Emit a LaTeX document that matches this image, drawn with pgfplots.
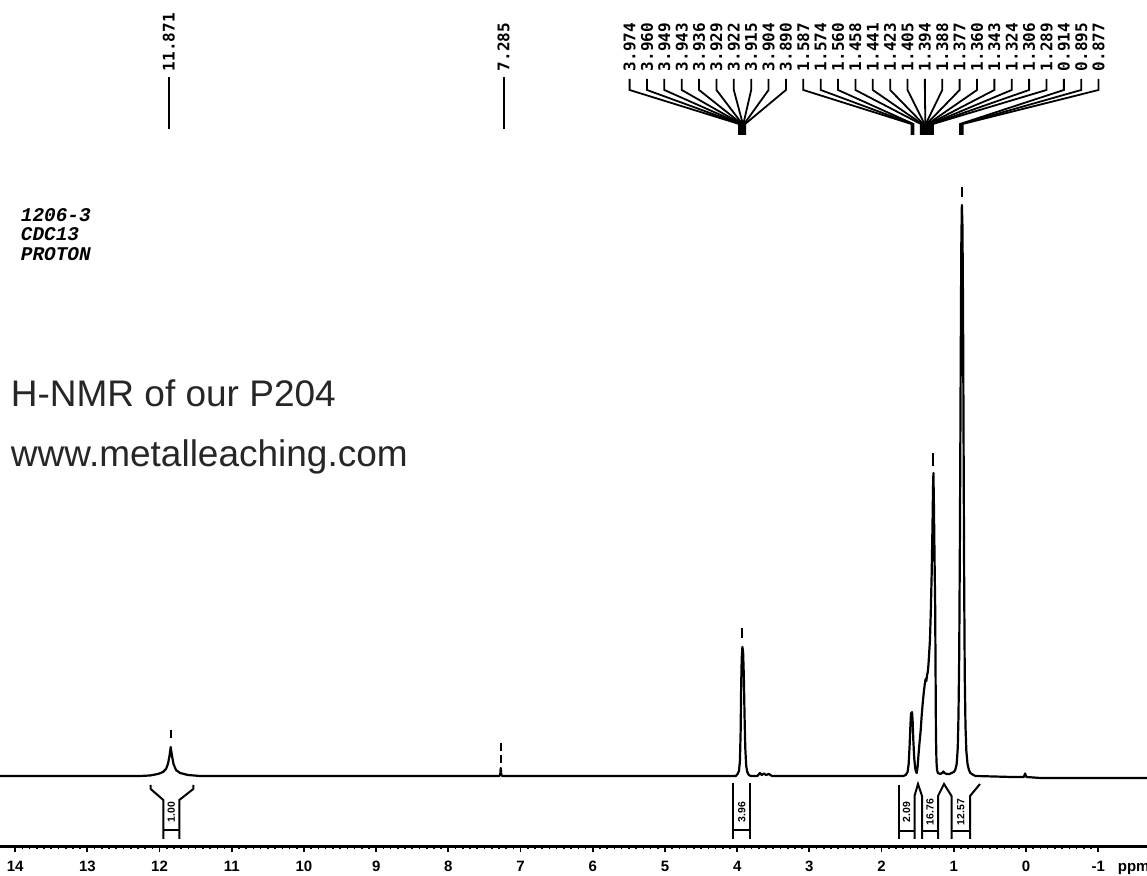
\documentclass[border=0pt]{standalone}
\usepackage{fontspec}
\setmainfont{Liberation Sans}
\newfontfamily\peakfont{DejaVu Sans Mono}
\newfontfamily\infofont{Liberation Mono}
\usepackage{pgfplots}
\pgfplotsset{compat=1.18}

\begin{document}
\begin{tikzpicture}
\begin{axis}[
  scale only axis,
  width=573.5pt, height=423.25pt,
  xmin=-1.6759, xmax=14.2105,
  ymin=-70.5, ymax=776,
  x dir=reverse,
  axis x line*=bottom, axis y line=none,
  x axis line style={line width=1.2pt,-},
  xtick={-1,0,...,14},
  xticklabels={-1,0,1,2,3,4,5,6,7,8,9,10,11,12,13,14},
  minor x tick num=9,
  tick align=outside,
  major tick length=3pt, minor tick length=1.5pt,
  every major tick/.style={line width=0.9pt,black},
  every minor tick/.style={line width=0.8pt,black},
  xticklabel style={font=\fontsize{7.5}{8}\selectfont\bfseries,inner sep=0pt,yshift=-4pt},
]
% baseline noise on the far left
\addplot[black,line width=1.35pt] coordinates {(14.21,0) (12.3,0)};
% spectrum
\addplot[black,line width=1.1pt,line join=round] coordinates {
(14.21,0) (12.27,0) (12.133,0.5) (12.022,2) (11.953,4) (11.911,7) (11.884,12)
(11.863,20) (11.846,29) (11.828,20) (11.807,12) (11.773,6) (11.717,3) (11.607,1) (11.44,0)
(7.30,0) (7.282,1) (7.275,8) (7.267,1) (7.25,0)
(4.02,0) (3.995,2) (3.975,5) (3.962,15) (3.952,45) (3.945,90) (3.937,118) (3.928,129)
(3.918,124) (3.908,100) (3.898,60) (3.888,28) (3.875,10) (3.86,4) (3.84,1) (3.81,0)
(3.72,0) (3.685,3) (3.66,1) (3.63,2.5) (3.60,1) (3.56,2) (3.52,0)
(1.70,0) (1.665,1) (1.64,4) (1.625,12) (1.612,30) (1.60,52) (1.592,63) (1.585,58)
(1.578,64) (1.57,55) (1.56,35) (1.548,18) (1.535,8) (1.522,4) (1.512,3)
(1.50,10) (1.49,20) (1.475,33) (1.458,46) (1.445,60) (1.43,73) (1.415,84) (1.40,93)
(1.39,97) (1.38,95) (1.37,101) (1.36,104) (1.35,112) (1.34,124) (1.33,136) (1.318,165)
(1.306,203) (1.295,250) (1.287,290) (1.282,303) (1.275,270) (1.266,215) (1.258,170)
(1.252,100) (1.247,40) (1.24,15) (1.232,6) (1.22,3) (1.19,2) (1.16,3) (1.145,4.5)
(1.13,3) (1.10,2) (1.06,2) (1.03,3)
(1.00,4) (0.98,6) (0.96,12) (0.945,28) (0.935,60) (0.925,120) (0.915,240) (0.905,400)
(0.896,530) (0.888,571) (0.880,550) (0.872,470) (0.864,330) (0.856,190) (0.848,100)
(0.838,50) (0.826,25) (0.81,12) (0.79,6) (0.77,3) (0.74,1.5) (0.70,0)
(0.2,-1) (0.03,-1) (0.012,2.5) (-0.005,-1) (-0.2,-2) (-1.68,-2)
};
% clipped-peak marks above the tops
\addplot[black,line width=1pt,unbounded coords=jump] coordinates {
(11.846,38) (11.846,46) (11.846,nan)
(7.271,13) (7.271,21) (7.271,nan) (7.271,25) (7.271,33) (7.271,nan)
(3.928,138) (3.928,148) (3.928,nan)
(1.282,310) (1.282,323) (1.282,nan)
(0.888,579) (0.888,589)
};
\end{axis}

% annotations in picture pixels (1147 x 876)
\begin{scope}[x=0.5pt,y=-0.5pt,yshift=423.25pt,line width=0.9pt]
  % sample info
  \node[anchor=base west,inner sep=0pt,font={\fontsize{9.7}{11}\selectfont\infofont\bfseries\itshape}] at (20,222) {1206-3};
  \node[anchor=base west,inner sep=0pt,font={\fontsize{9.7}{11}\selectfont\infofont\bfseries\itshape}] at (20,241) {CDC13};
  \node[anchor=base west,inner sep=0pt,font={\fontsize{9.7}{11}\selectfont\infofont\bfseries\itshape}] at (20,261) {PROTON};
  \node[anchor=base west,inner sep=0pt,text=black!85,font=\fontsize{18.5}{20}\selectfont] at (10,407) {H-NMR of our P204};
  \node[anchor=base west,inner sep=0pt,text=black!85,font=\fontsize{18.5}{20}\selectfont] at (10,467) {www.metalleaching.com};

  % peak labels
  \node[rotate=90,anchor=west,inner sep=0pt,font={\fontsize{8}{9}\selectfont\peakfont\bfseries}] at (168.7,72) {11.871};
  \draw (168.7,77) -- (168.7,129);
  \node[rotate=90,anchor=west,inner sep=0pt,font={\fontsize{8}{9}\selectfont\peakfont\bfseries}] at (503.6,72) {7.285};
  \draw (503.6,77) -- (503.6,129);
  \foreach \v [count=\i from 0] in {3.974,3.960,3.949,3.943,3.936,3.929,3.922,3.915,3.904,3.890,
      1.587,1.574,1.560,1.458,1.441,1.423,1.405,1.394,1.388,1.377,1.360,1.343,1.324,1.306,1.289,
      0.914,0.895,0.877} {
    \pgfmathsetmacro\lx{629.6+17.37*\i}
    \pgfmathsetmacro\pk{1026-72.2*\v}
    \node[rotate=90,anchor=west,inner sep=0pt,font={\fontsize{8}{9}\selectfont\peakfont\bfseries}] at (\lx,72) {\v};
    \draw (\lx,79) -- (\lx,90) -- (\pk,124) -- (\pk,135);
  }

  % integrals
  \begin{scope}[line width=1pt]
    \draw (150.7,785) -- (150.7,789) -- (163.3,800) -- (163.3,839);
    \draw (193.3,785) -- (193.3,789) -- (179.3,800) -- (179.3,839);
    \draw (163.3,830) -- (179.3,830);
    \draw (733.3,783) -- (733.3,839);
    \draw (750,783) -- (750,839);
    \draw (733.3,830) -- (750,830);
    \draw (898.5,785) -- (898.5,839);
    \draw (914.5,839) -- (914.5,796) -- (918,784) -- (922,796) -- (922,839);
    \draw (938,839) -- (938,796) -- (944,784) -- (951.5,796) -- (951.5,839);
    \draw (970,839) -- (970,796) -- (980,784);
    \draw (898.5,831) -- (914.5,831);
    \draw (922,831) -- (938,831);
    \draw (951.5,831) -- (970,831);
  \end{scope}
  \foreach \xx/\t in {171.3/1.00,741.7/3.96,906.5/2.09,930/16.76,960.7/12.57}
    \node[rotate=90,inner sep=0pt,font={\fontsize{5.2}{6}\selectfont\bfseries}] at (\xx,812) {\t};

  % unit label at the right edge
  \node[anchor=base west,inner sep=0pt,font=\fontsize{7.5}{8}\selectfont\bfseries] at (1117,871.7) {ppm};

  \pgfresetboundingbox
  \path[use as bounding box] (0,0) rectangle (1147,876);
\end{scope}
\end{tikzpicture}
\end{document}
